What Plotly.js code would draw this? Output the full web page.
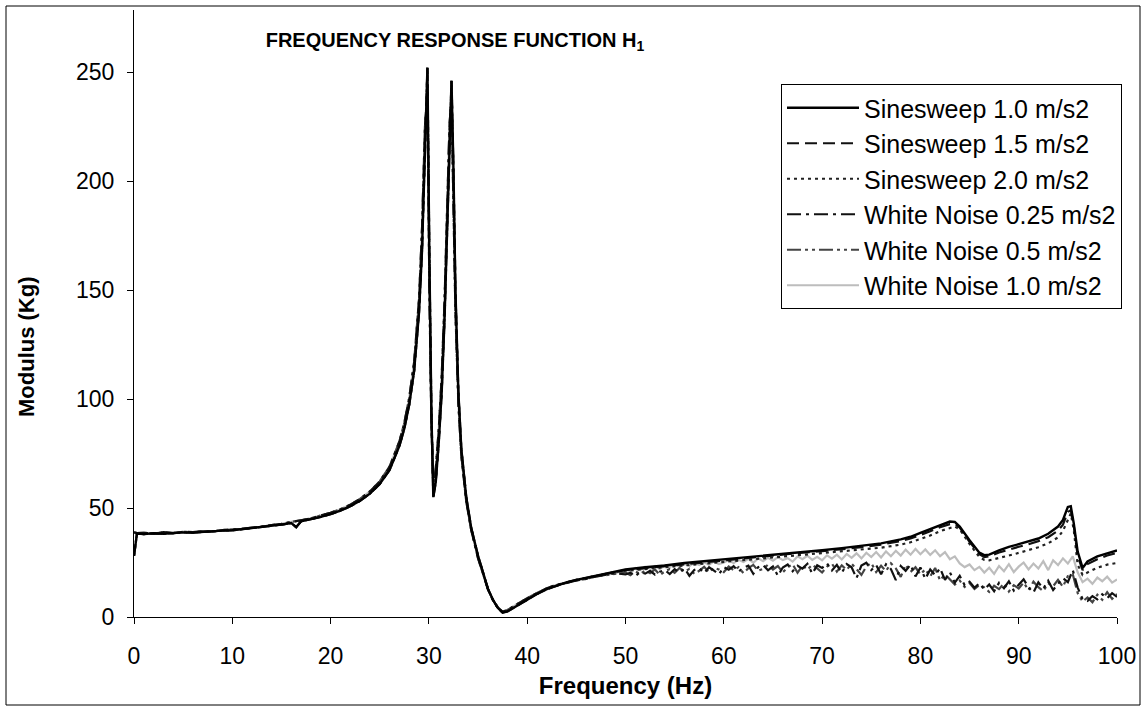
<!DOCTYPE html>
<html>
<head>
<meta charset="utf-8">
<script src="https://cdn.plot.ly/plotly-3.0.1.min.js"></script>
<style>html,body{margin:0;padding:0;background:#fff;}#chart{width:1147px;height:707px;}</style>
</head>
<body>
<div id="chart"></div>
<script>
// ---------- DATA ----------
const seriesNames = ["Sinesweep 1.0 m/s2", "Sinesweep 1.5 m/s2", "Sinesweep 2.0 m/s2",
                     "White Noise 0.25 m/s2", "White Noise 0.5 m/s2", "White Noise 1.0 m/s2"];

// low band 0–50 Hz (all curves nearly coincide here)
const freqLow = [0, 0.3, 1, 2, 3, 4, 5, 6, 7, 8, 9, 10, 11, 12, 13, 14, 15, 16, 16.5, 17, 18, 19, 20,
  21, 22, 23, 24, 25, 26, 27, 27.5, 28, 28.5, 29, 29.3, 29.6, 29.85, 30.05, 30.25, 30.45, 30.7, 31.0,
  31.3, 31.6, 31.9, 32.1, 32.3, 32.5, 32.7, 33.0, 33.3, 33.8, 34.3, 35, 35.5, 36, 36.5, 37, 37.5, 38,
  38.5, 39, 40, 41, 42, 43, 44, 45, 46, 47, 48, 49];

const lowSine = [28, 38.3, 38.0, 38.4, 38.2, 38.6, 38.8, 38.7, 39.1, 39.2, 39.6, 39.8, 40.3, 40.6, 41.2,
  41.8, 42.4, 43.1, 41.2, 43.9, 44.8, 45.9, 47.2, 48.8, 50.8, 53.3, 56.6, 61.0, 67.5, 78.5, 86.5, 97.5,
  113, 140, 168, 212, 252, 165, 95, 55, 62, 80, 103, 138, 183, 218, 246, 205, 150, 103, 77, 55, 41, 28,
  20, 13, 8, 4.2, 2, 2.6, 3.9, 5.3, 8, 10.6, 12.8, 14.5, 15.9, 17, 18, 19, 19.9, 20.7];

const lowNoise = [38.8, 38.5, 38.6, 38.3, 38.9, 38.5, 39.1, 38.9, 39.4, 39.2, 39.9, 40.1, 40.4, 41.0,
  41.4, 42.2, 42.7, 43.6, 43.9, 44.4, 45.3, 46.5, 47.8, 49.4, 51.5, 54.2, 57.6, 62.2, 69, 80.5, 89,
  100.5, 117, 146, 178, 225, 240, 150, 90, 60, 68, 86, 110, 146, 192, 226, 238, 190, 140, 98, 74, 53,
  40, 27, 19.5, 12.8, 7.8, 4.5, 2.4, 3.2, 4.6, 6, 8.6, 11, 13.2, 14.8, 15.6, 16.8, 17.5, 18.6, 19.2, 20.1];

// high band, sinesweep curves
const freqSine = [50, 52, 54, 56, 58, 60, 62, 64, 66, 68, 70, 72, 74, 76, 78, 79, 80, 81, 82, 83, 83.5,
  84, 85, 86, 86.5, 87, 88, 89, 90, 91, 92, 93, 94, 94.5, 95, 95.3, 95.6, 96, 96.5, 97, 98, 99, 100];

const sine10 = [21.8, 22.8, 23.6, 24.8, 25.6, 26.6, 27.3, 28.2, 29.0, 29.9, 30.6, 31.6, 32.6, 33.8, 35.6,
  36.8, 38.6, 40.4, 42.3, 43.8, 43.6, 41.5, 35.2, 29.5, 28.4, 28.6, 30.6, 32.2, 33.4, 34.6, 36.0, 38.2,
  41.5, 44.5, 50.5, 50.8, 43, 30, 22.5, 25.5, 27.8, 29.2, 30.5];
const sine15 = [21.5, 22.4, 23.3, 24.4, 25.3, 26.2, 27.0, 27.8, 28.6, 29.5, 30.2, 31.0, 32.0, 33.2, 34.8,
  36.0, 37.6, 39.3, 41.2, 42.6, 42.8, 41.0, 34.5, 28.8, 27.5, 27.8, 29.6, 31.0, 32.2, 33.4, 34.8, 36.6,
  39.6, 42.4, 48.2, 49.0, 42, 28, 21.5, 24.3, 26.5, 28.2, 29.4];
const sine20 = [21.2, 22.0, 22.9, 23.8, 24.7, 25.5, 26.3, 27.0, 27.8, 28.6, 29.2, 30.0, 30.8, 31.8, 33.2,
  34.3, 35.8, 37.4, 39.4, 41.0, 41.5, 40.2, 33.5, 27.5, 26.2, 26.0, 27.0, 28.2, 29.4, 30.6, 32.0, 33.8,
  36.5, 39.5, 44.8, 47.5, 40, 24, 19.3, 20.5, 22.6, 24.0, 24.8];

// high band, white-noise curves (0.5 Hz resolution)
const freqNoise = [50, 50.5, 51, 51.5, 52, 52.5, 53, 53.5, 54, 54.5, 55, 55.5, 56, 56.5, 57, 57.5, 58, 58.5,
  59, 59.5, 60, 60.5, 61, 61.5, 62, 62.5, 63, 63.5, 64, 64.5, 65, 65.5, 66, 66.5, 67, 67.5, 68, 68.5, 69,
  69.5, 70, 70.5, 71, 71.5, 72, 72.5, 73, 73.5, 74, 74.5, 75, 75.5, 76, 76.5, 77, 77.5, 78, 78.5, 79, 79.5,
  80, 80.5, 81, 81.5, 82, 82.5, 83, 83.5, 84, 84.5, 85, 85.5, 86, 86.5, 87, 87.5, 88, 88.5, 89, 89.5, 90,
  90.5, 91, 91.5, 92, 92.5, 93, 93.5, 94, 94.5, 95, 95.5, 96, 96.5, 97, 97.5, 98, 98.5, 99, 99.5, 100];

const noise025 = [19.5, 20.3, 18.8, 20.6, 19.9, 21.2, 19.4, 20.8, 21.5, 19.7, 21.9, 20.4, 22.3, 18.9, 21.6,
  22.4, 20.2, 22.8, 21.3, 19.6, 22.9,
  21.7, 23.3, 20.8, 22.6, 23.6, 19.8, 22.9, 23.8, 21.4, 23.2, 18.9, 22.7, 24.1, 21.0, 23.5, 22.2, 24.4, 19.9, 23.7, 22.5,
  24.6, 21.3, 23.9, 20.2, 24.3, 22.8, 17.8, 23.6, 24.9, 21.5, 23.8, 19.6, 24.2, 22.0, 16.9, 23.4, 21.2, 24.0, 18.6, 22.7,
  17.5, 21.8, 19.2, 22.4, 17.0, 20.5, 15.8, 18.9, 14.6, 16.2, 13.4, 15.5, 12.6, 14.9, 11.8, 15.7, 13.2, 16.4, 12.1, 14.8,
  17.3, 13.5, 11.2, 15.9, 13.0, 16.6, 12.4, 15.2, 17.8, 16.0, 21.5, 13.5, 8.2, 7.4, 9.6, 8.1, 10.4, 8.6, 10.9, 9.2];

const noise05 = [20.4, 19.2, 21.0, 19.6, 21.4, 20.1, 21.8, 19.3, 20.9, 22.0, 20.3, 22.5, 20.7, 22.1, 19.8,
  21.2, 23.0, 20.5, 22.6, 21.8, 20.6,
  23.2, 21.5, 22.9, 20.1, 22.4, 23.9, 21.2, 22.1, 24.0, 21.8, 23.4, 20.5, 22.8, 24.2, 20.3, 23.6, 21.7, 24.0, 22.3, 20.4,
  23.1, 24.5, 20.8, 23.7, 21.6, 24.4, 22.0, 19.3, 23.2, 24.8, 20.6, 23.5, 21.1, 24.6, 22.3, 18.4, 23.9, 20.7, 22.8, 19.5,
  21.9, 18.6, 22.5, 16.8, 19.6, 17.4, 14.9, 16.7, 13.8, 15.6, 12.9, 14.7, 13.6, 11.5, 14.3, 12.8, 15.4, 11.7, 14.6, 13.1,
  15.8, 12.3, 16.2, 13.7, 11.9, 15.5, 14.1, 17.0, 13.9, 18.8, 19.6, 11.0, 7.1, 9.0, 6.8, 10.2, 7.9, 11.4, 8.3, 10.5];

const noise10 = [21.8, 21.0, 22.5, 21.6, 23.1, 22.2, 23.4, 22.0, 23.8, 22.9, 24.2, 23.1, 24.5, 23.3, 24.9,
  23.8, 25.1, 24.0, 25.5, 24.3, 25.0,
  26.1, 24.7, 26.3, 25.2, 26.7, 24.9, 26.9, 25.6, 27.2, 25.8, 27.5, 26.1, 27.0, 25.4, 27.8, 26.5, 28.1, 26.2, 27.6, 26.0,
  28.3, 26.8, 28.6, 26.4, 28.9, 27.1, 29.2, 26.9, 29.5, 27.5, 29.8, 27.3, 30.1, 27.9, 30.4, 28.2, 30.9, 28.6, 31.2, 28.8,
  31.0, 28.5, 30.6, 27.9, 29.8, 26.5, 27.8, 24.6, 22.9, 24.1, 21.5, 23.0, 20.4, 22.6, 19.8, 23.4, 21.0, 24.2, 20.6, 23.1,
  25.0, 21.8, 24.5, 22.2, 25.6, 21.5, 26.0, 23.8, 26.9, 24.5, 27.8, 20.5, 16.0, 17.6, 15.2, 18.1, 16.4, 18.5, 15.8, 17.2];

const xTicks = [0, 10, 20, 30, 40, 50, 60, 70, 80, 90, 100];
const yTicks = [0, 50, 100, 150, 200, 250];

// ---------- BUILD ----------
const FONT = "Liberation Sans, Arial, Helvetica, sans-serif";
const styles = [
  {color: "#000000", width: 2.4, dash: "solid"},
  {color: "#111111", width: 2.2, dash: "12px,6px"},
  {color: "#222222", width: 2.2, dash: "3px,4px"},
  {color: "#111111", width: 2.2, dash: "14px,5px,3px,5px"},
  {color: "#444444", width: 2.2, dash: "14px,4px,3px,4px,3px,4px"},
  {color: "#bdbdbd", width: 2.2, dash: "solid"}
];
const highX = [freqSine, freqSine, freqSine, freqNoise, freqNoise, freqNoise];
const highY = [sine10, sine15, sine20, noise025, noise05, noise10];
const lowY = [lowSine, lowSine, lowSine, lowNoise, lowNoise, lowNoise];

// draw light grey first so dark curves sit on top, but keep legend order
const order = [5, 4, 3, 2, 1, 0];
const traces = order.map(i => ({
  type: "scatter", mode: "lines", name: seriesNames[i],
  x: freqLow.concat(highX[i]), y: lowY[i].concat(highY[i]),
  line: styles[i], legendrank: i + 1
}));

const L = 134, R = 30, T = 10, B = 90, W = 1147, H = 707;
const pw = W - L - R, ph = H - T - B;
const px = v => (v - L) / pw;
const py = v => (H - B - v) / ph;

const layout = {
  width: W, height: H,
  margin: {l: L, r: R, t: T, b: B, pad: 0},
  paper_bgcolor: "#ffffff", plot_bgcolor: "#ffffff",
  font: {family: FONT, color: "#000000", size: 22},
  showlegend: true,
  title: {
    text: "<b>FREQUENCY RESPONSE FUNCTION H<sub>1</sub></b>",
    font: {family: FONT, size: 20, color: "#000"},
    xref: "paper", x: px(455), xanchor: "center",
    yref: "container", y: 1 - 40 / H, yanchor: "middle"
  },
  xaxis: {
    range: [0, 100], tickvals: xTicks, ticktext: xTicks.map(String),
    showgrid: false, zeroline: false, showline: true, linecolor: "#000", linewidth: 1,
    ticks: "outside", ticklen: 6, tickcolor: "#000", tickfont: {size: 23},
    ticklabelstandoff: 12,
    title: {text: "<b>Frequency (Hz)</b>", font: {size: 24}, standoff: 9}
  },
  yaxis: {
    range: [0, (H - B - T) / 2.18], tickvals: yTicks, ticktext: yTicks.map(String),
    showgrid: false, zeroline: false, showline: true, linecolor: "#000", linewidth: 1,
    ticks: "outside", ticklen: 6, tickcolor: "#000", tickfont: {size: 23},
    ticklabelstandoff: 8
  },
  annotations: [{
    text: "<b>Modulus (Kg)</b>", textangle: -90, showarrow: false,
    xref: "paper", yref: "paper", x: px(26), y: py(347),
    xanchor: "center", yanchor: "middle", font: {size: 22}
  }],
  legend: {
    x: px(781), y: py(84), xanchor: "left", yanchor: "top",
    bgcolor: "#ffffff", bordercolor: "#000", borderwidth: 1,
    font: {size: 25}, itemwidth: 72, tracegroupgap: 0
  },
  shapes: [{
    type: "rect", xref: "paper", yref: "paper",
    x0: px(6), x1: px(1140), y0: py(705), y1: py(6),
    line: {color: "#000", width: 1}, layer: "below"
  }]
};

Plotly.newPlot("chart", traces, layout, {staticPlot: true, displayModeBar: false});
</script>
</body>
</html>
